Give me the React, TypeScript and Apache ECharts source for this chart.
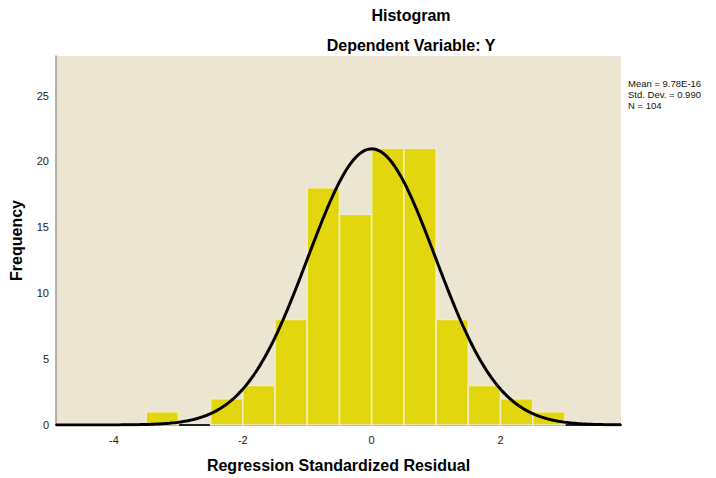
import React, { useEffect, useRef } from "react";
import * as echarts from "echarts";

// Histogram bins (lower edge, upper edge) and frequencies
const binStarts = [-3.5, -2.5, -2.0, -1.5, -1.0, -0.5, 0.0, 0.5, 1.0, 1.5, 2.0, 2.5];
const binEnds = [-3.0, -2.0, -1.5, -1.0, -0.5, 0.0, 0.5, 1.0, 1.5, 2.0, 2.5, 3.0];
const frequencies = [1, 2, 3, 8, 18, 16, 21, 21, 8, 3, 2, 1];

const xTickLabels = [-4, -2, 0, 2];
const yTickLabels = [0, 5, 10, 15, 20, 25];

// Summary statistics shown in the chart
const MEAN = 9.78e-16;
const SD = 0.99;
const N = 104;
const BIN_WIDTH = 0.5;
const statLines = ["Mean = 9.78E-16", "Std. Dev. = 0.990", "N = 104"];

const X_MIN = -4.9;
const X_MAX = 3.87;

// Fitted normal curve from the stated mean / sd / N
const curveXs: number[] = [];
for (let i = 0; i <= 300; i++) curveXs.push(X_MIN + ((X_MAX - X_MIN) * i) / 300);
const curve = curveXs.map((x) => [
  x,
  (N * BIN_WIDTH) / (SD * Math.sqrt(2 * Math.PI)) * Math.exp(-((x - MEAN) ** 2) / (2 * SD * SD)),
]);

export default function App() {
  const ref = useRef<HTMLDivElement>(null);
  useEffect(() => {
    if (!ref.current) return;
    const chart = echarts.init(ref.current, null, { renderer: "svg" });
    const font = "Liberation Sans, Arial, sans-serif";
    chart.setOption({
      animation: false,
      backgroundColor: "#ffffff",
      textStyle: { fontFamily: font },
      title: [
        {
          text: "Histogram",
          left: 406,
          top: 2,
          textAlign: "center",
          textStyle: { fontSize: 16, fontWeight: "bold", color: "#000", fontFamily: font },
        },
        {
          text: "Dependent Variable: Y",
          left: 406,
          top: 32,
          textAlign: "center",
          textStyle: { fontSize: 16, fontWeight: "bold", color: "#000", fontFamily: font },
        },
      ],
      grid: {
        left: 53,
        right: 95,
        top: 56,
        bottom: 53,
        show: true,
        backgroundColor: "#ECE5D1",
        borderWidth: 0,
      },
      xAxis: {
        type: "value",
        min: X_MIN,
        max: X_MAX,
        name: "Regression Standardized Residual",
        nameLocation: "middle",
        nameGap: 32,
        nameTextStyle: { fontSize: 16, fontWeight: "bold", color: "#000", fontFamily: font },
        axisLine: { show: true, onZero: false, lineStyle: { color: "#222", width: 2 } },
        axisTick: { show: false },
        splitLine: { show: false },
        axisLabel: {
          customValues: xTickLabels,
          fontSize: 11,
          color: "#222",
          margin: 9,
          fontFamily: font,
        },
      },
      yAxis: {
        type: "value",
        min: 0,
        max: 28,
        name: "Frequency",
        nameLocation: "middle",
        nameGap: 32,
        nameRotate: 90,
        nameTextStyle: { fontSize: 16, fontWeight: "bold", color: "#000", fontFamily: font },
        axisLine: { show: true, onZero: false, lineStyle: { color: "#999", width: 1.5 } },
        axisTick: { show: false },
        splitLine: { show: false },
        axisLabel: {
          customValues: yTickLabels,
          fontSize: 11,
          color: "#222",
          margin: 7,
          fontFamily: font,
        },
      },
      series: [
        {
          type: "custom",
          data: binStarts.map((s, i) => [s, binEnds[i], frequencies[i]]),
          encode: { x: [0, 1], y: 2 },
          renderItem: (params: any, api: any) => {
            const p0 = api.coord([api.value(0), api.value(2)]);
            const p1 = api.coord([api.value(1), 0]);
            return {
              type: "rect",
              shape: { x: p0[0], y: p0[1], width: p1[0] - p0[0], height: p1[1] - p0[1] },
              style: { fill: "#E2D70F", stroke: "#F2EDC8", lineWidth: 1.5 },
            };
          },
          z: 2,
        },
        {
          type: "line",
          data: curve,
          showSymbol: false,
          symbol: "none",
          lineStyle: { color: "#000", width: 3 },
          z: 3,
        },
      ],
      graphic: statLines.map((t, i) => ({
        type: "text",
        left: 628,
        top: 78 + i * 11,
        style: { text: t, fontSize: 9.5, fill: "#111", fontFamily: font },
      })),
    });
    return () => chart.dispose();
  }, []);
  return (
    <div
      ref={ref}
      style={{ position: "fixed", left: 0, top: 0, width: 716, height: 478 }}
    />
  );
}
